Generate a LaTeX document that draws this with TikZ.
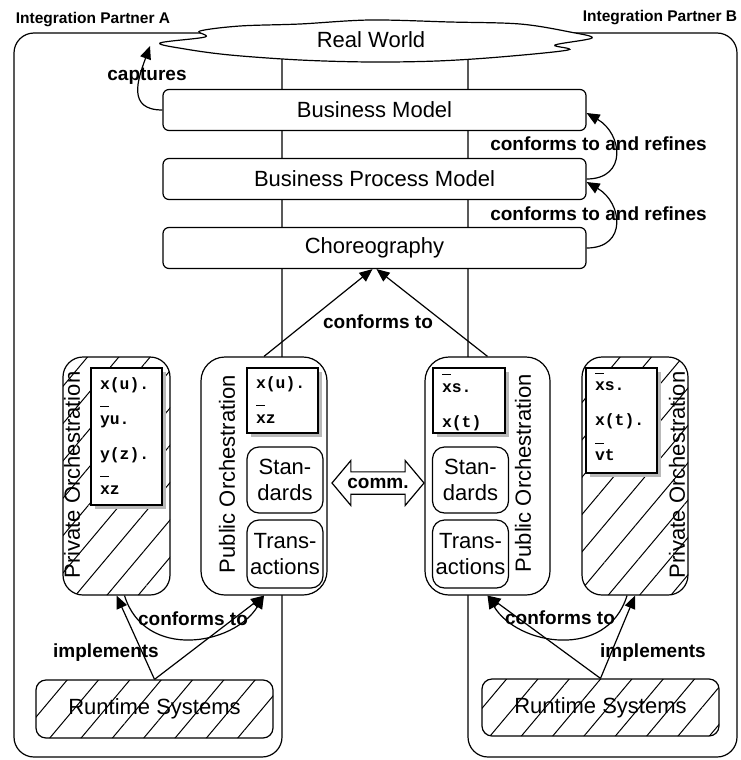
\documentclass[tikz,border=0pt]{standalone}
\usepackage{fontspec}
\setmainfont{Liberation Sans}
\setmonofont{Liberation Mono}
\usetikzlibrary{shapes.arrows,patterns.meta,shadows,arrows.meta}
\newcommand{\outch}[1]{\makebox[0pt][l]{\smash{\raisebox{8.5pt}{\rule{0.55em}{0.5pt}}}}#1}
\newcommand{\cstop}[1]{\rule{0pt}{#1}}
\newcommand{\csbot}{\rule[-2pt]{0pt}{2pt}}
\tikzset{
  big/.style={font=\fontsize{11}{13}\selectfont},
  lbl/.style={font=\bfseries\fontsize{9.5}{11}\selectfont},
  layer/.style={draw,fill=white,rounded corners=3pt,minimum width=211.5pt,minimum height=20.5pt,big},
  hatch/.style={pattern={Lines[angle=50,distance=12pt,line width=0.5pt]}},
  orch/.style={draw,rounded corners=10pt,minimum width=#1,minimum height=119pt,inner sep=0pt},
  code/.style={draw,fill=white,drop shadow={shadow xshift=2pt,shadow yshift=-2pt,fill=gray!55,opacity=1},
    inner xsep=4.5pt,inner ysep=0pt,text width=#1,align=left,font=\ttfamily\bfseries\fontsize{8.2}{17.5}\selectfont},
  part/.style={draw,fill=white,rounded corners=6pt,minimum width=38pt,inner sep=0pt,align=center,big},
  tip/.style={-{Triangle[length=6.5pt,width=5.5pt]}},
}
\begin{document}
\begin{tikzpicture}[x=0.5pt,y=-0.5pt,line width=0.6pt]
    \useasboundingbox (0,0) rectangle (740,760);
    \draw[rounded corners=10pt] (14,33) rectangle (282,757);
    \draw[rounded corners=10pt] (468,33) rectangle (737,757);
    \node[font=\bfseries\fontsize{7.75}{9}\selectfont] (partA) at (93,20) {Integration Partner A};
    \node[font=\bfseries\fontsize{7.75}{9}\selectfont] (partB) at (660,18) {Integration Partner B};
    \draw[fill=white] plot[smooth cycle,tension=0.55] coordinates {(160,43) (205,37) (200,31) (240,26) (300,24)
      (370,20) (450,22) (520,24) (570,32) (592,38) (555,45) (568,50) (500,57) (437,61) (370,62) (300,60) (230,55) (185,49)};
    \node[big] (world) at (371,40) {Real World};
    \coordinate (wtip) at (150,46);
    \node[layer] (bm) at (374.5,110) {Business Model};
    \node[layer] (bpm) at (374.5,179) {Business Process Model};
    \node[layer] (chor) at (374.5,248) {Choreography};
    \draw[tip] (bm.west) to[out=180,in=-110,looseness=1.4] (wtip);
    \node[lbl] (capt) at (147,76) {captures};
    \draw[tip] (bpm.east) to[out=0,in=-30,looseness=1.6] ([yshift=-1.5pt]bm.east);
    \draw[tip] (chor.east) to[out=0,in=-30,looseness=1.6] ([yshift=-1.5pt]bpm.east);
    \node[lbl] (ref1) at (598.5,144) {conforms to and refines};
    \node[lbl] (ref2) at (598.5,214) {conforms to and refines};
    \node[orch=53.5pt,hatch] (privA) at (116.5,476) {};
    \node[orch=63pt,fill=white,rounded corners=12pt] (pubA) at (264,476) {};
    \node[orch=62.5pt,fill=white,rounded corners=12pt] (pubB) at (487.5,476) {};
    \node[orch=53pt,hatch] (privB) at (635,476) {};
    \draw[tip] (pubA.north) -- ([xshift=-1pt]chor.south);
    \draw[tip] (pubB.north) -- ([xshift=1pt]chor.south);
    \node[lbl] (conf) at (378,322) {conforms to};
    \node[rotate=90,big] (privAlbl) at (72,475) {Private Orchestration};
    \node[rotate=90,big] (pubAlbl) at (227,474) {Public Orchestration};
    \node[rotate=90,big] (pubBlbl) at (523,473) {Public Orchestration};
    \node[rotate=90,big] (privBlbl) at (677,475) {Private Orchestration};
    \node[code=26.5pt,minimum height=68.5pt] (codeA) at (126.5,436.5) {\cstop{7pt}x(u).\\\outch{y}u.\\y(z).\\\outch{x}z\csbot};
    \node[code=26.5pt,minimum height=32.5pt] (codePA) at (282.5,400.5) {\cstop{7pt}x(u).\\\outch{x}z\csbot};
    \node[code=27pt,minimum height=32.5pt] (codePB) at (469,400.5) {\cstop{11pt}\outch{x}s.\\x(t)\csbot};
    \node[code=26.5pt,minimum height=52.5pt] (codeB) at (621.5,420.5) {\cstop{7pt}\outch{x}s.\\x(t).\\\outch{v}t\csbot};
    \node[part,minimum height=33pt] (stdA) at (285,480) {Stan-\\dards};
    \node[part,minimum height=34pt] (trA) at (285,554) {Trans-\\actions};
    \node[part,minimum height=33pt] (stdB) at (470.5,480) {Stan-\\dards};
    \node[part,minimum height=34pt] (trB) at (470.5,554) {Trans-\\actions};
    \node[double arrow,draw,fill=white,double arrow head extend=5.5pt,double arrow tip angle=100,
      minimum height=46pt,minimum width=22.5pt,inner xsep=1pt,inner ysep=2.5pt,lbl] (comm) at (378,483) {comm.};
    \node[draw,hatch,rounded corners=5pt,minimum width=118.5pt,minimum height=29pt,big] (rtA) at (154.5,709) {Runtime Systems};
    \node[draw,hatch,rounded corners=5pt,minimum width=118.5pt,minimum height=28.5pt,big] (rtB) at (600.5,707.5) {Runtime Systems};
    \draw[tip] (rtA.north) -- (privA.south);
    \draw[tip] (rtA.north) -- (pubA.south);
    \draw[tip] ([xshift=4pt]privA.south) .. controls +(20,65) and +(-30,50) .. (pubA.south);
    \node[lbl] (confA) at (193,619) {conforms to};
    \node[lbl] (implA) at (106,653) {implements};
    \draw[tip] (rtB.north) -- (pubB.south);
    \draw[tip] (rtB.north) -- (privB.south);
    \draw[tip] ([xshift=-4pt]privB.south) .. controls +(-20,65) and +(30,50) .. (pubB.south);
    \node[lbl] (confB) at (560,618) {conforms to};
    \node[lbl] (implB) at (653,653) {implements};
\end{tikzpicture}
\end{document}
